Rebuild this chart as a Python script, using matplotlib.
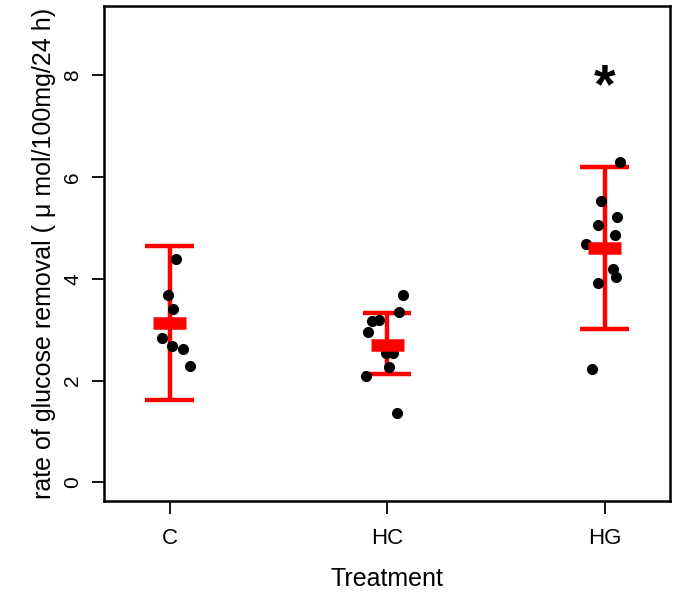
import matplotlib
matplotlib.use('Agg')
import matplotlib.pyplot as plt
import numpy as np

plt.rcParams['font.family'] = ['Liberation Sans', 'DejaVu Sans']

groups = ['C', 'HC', 'HG']

# individual values (rate of glucose removal) and horizontal jitter of each point
c_vals = [4.39, 3.69, 3.41, 2.84, 2.68, 2.62, 2.29]
c_jit = [0.028, -0.006, 0.018, -0.033, 0.009, 0.064, 0.096]
hc_vals = [3.68, 3.35, 3.16, 3.18, 2.96, 2.55, 2.54, 2.27, 2.09, 1.36]
hc_jit = [0.072, 0.055, -0.070, -0.037, -0.087, -0.005, 0.026, 0.009, -0.098, 0.045]
hg_vals = [6.30, 5.53, 5.22, 5.06, 4.85, 4.68, 4.19, 4.03, 3.91, 2.22]
hg_jit = [0.069, -0.015, 0.058, -0.029, 0.046, -0.084, 0.037, 0.052, -0.032, -0.058]

# mean and error bar limits
means = [3.13, 2.70, 4.60]
upper = [4.64, 3.32, 6.19]
lower = [1.62, 2.12, 3.02]

fig = plt.figure(figsize=(6.75, 5.96), dpi=100)
ax = fig.add_axes([0.1545, 0.16, 0.838, 0.83])

red = '#ff0000'
pos = np.arange(1, 4)
for i in range(3):
    x = pos[i]
    ax.plot([x, x], [lower[i], upper[i]], color=red, lw=3.2, zorder=1,
            solid_capstyle='butt')
    ax.plot([x - 0.112, x + 0.112], [upper[i], upper[i]], color=red, lw=3.2,
            zorder=1, solid_capstyle='butt')
    ax.plot([x - 0.112, x + 0.112], [lower[i], lower[i]], color=red, lw=3.2,
            zorder=1, solid_capstyle='butt')

all_vals = [c_vals, hc_vals, hg_vals]
all_jit = [c_jit, hc_jit, hg_jit]
for i in range(3):
    xs = pos[i] + np.array(all_jit[i])
    ax.plot(xs, all_vals[i], 'o', color='black', ms=7, zorder=2)

for i in range(3):
    x = pos[i]
    ax.plot([x - 0.076, x + 0.076], [means[i], means[i]], color=red, lw=9,
            zorder=3, solid_capstyle='butt')

ax.text(3, 7.75, '*', fontsize=40, fontweight='bold', ha='center', va='center')

ax.set_xlim(0.7, 3.3)
ax.set_ylim(-0.36, 9.36)
ax.set_xticks(pos)
ax.set_xticklabels(groups)
ax.set_yticks([0, 2, 4, 6, 8])
ax.set_yticklabels(['0', '2', '4', '6', '8'], rotation=90, va='center')
ax.tick_params(axis='both', width=1.3, length=9)
ax.tick_params(axis='x', pad=11, labelsize=16)
ax.tick_params(axis='y', pad=7, labelsize=15)
for s in ax.spines.values():
    s.set_linewidth(1.8)

ax.set_xlabel('Treatment', fontsize=18, labelpad=13)
ax.set_ylabel('rate of glucose removal ( \u03bc mol/100mg/24 h)', fontsize=18,
              labelpad=5)

fig.savefig('out.png', dpi=100)
